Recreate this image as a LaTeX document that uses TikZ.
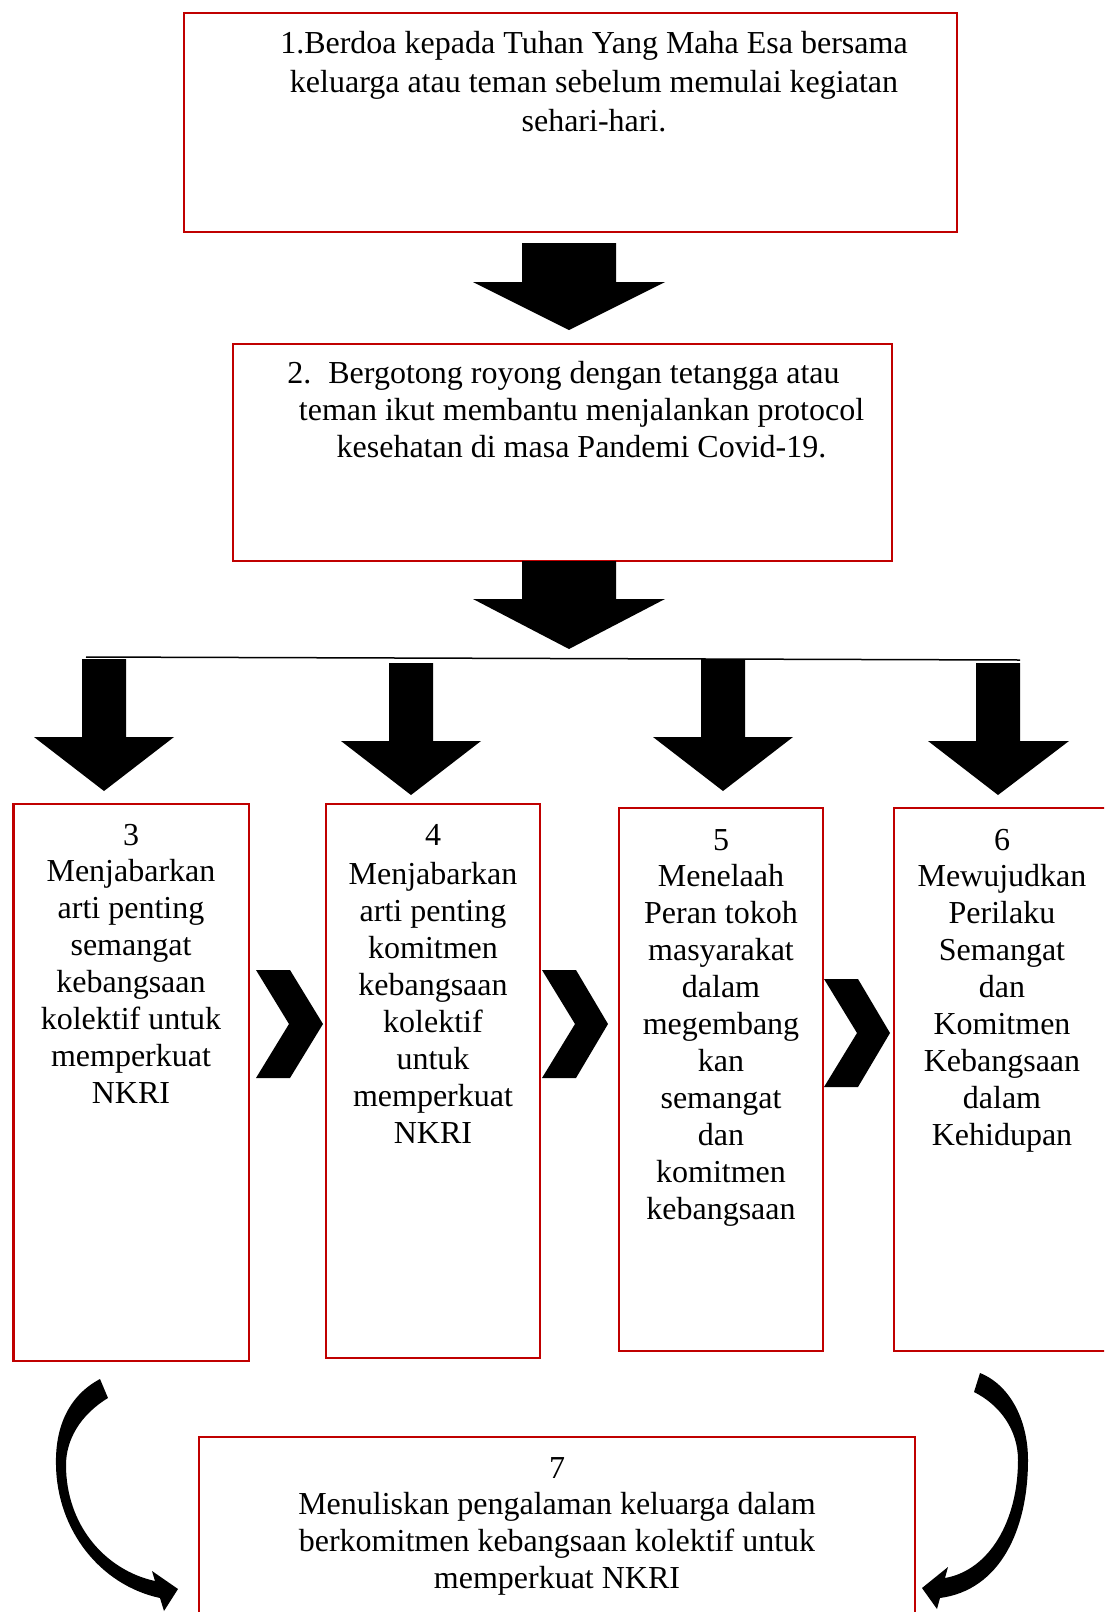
\documentclass[tikz,border=0pt]{standalone}
\usepackage{fontspec}
\setmainfont{Liberation Serif}
\definecolor{boxred}{HTML}{C00000}
\begin{document}
\begin{tikzpicture}[x=1pt,y=-1pt,
  boxnode/.style={draw=boxred, line width=2.5pt, inner sep=0pt, outer sep=0pt},
  txt/.style={anchor=base, inner sep=0pt, outer sep=0pt, font=\fontsize{32}{36.9}\selectfont},
  blk/.style={fill=black, draw=none}]
\useasboundingbox (0,0) rectangle (1104,1612);
\clip (0,0) rectangle (1104,1612);
% boxes
\node[boxnode, minimum width=773pt, minimum height=219pt] (b1) at (570.5,122.5) {};
\node[boxnode, minimum width=659pt, minimum height=217pt] (b2) at (562.5,452.5) {};
\node[boxnode, minimum width=235.5pt, minimum height=557pt] (b3) at (131.25,1082.5) {};
\node[boxnode, minimum width=214pt, minimum height=554pt] (b4) at (433,1081) {};
\node[boxnode, minimum width=204pt, minimum height=543pt] (b5) at (721,1079.5) {};
\node[boxnode, minimum width=218pt, minimum height=543pt] (b6) at (1003,1079.5) {};
\node[boxnode, minimum width=716pt, minimum height=203pt] (b7) at (557,1538.5) {};
% texts
\node[txt, font=\fontsize{32}{39.2}\selectfont] (t1) at (594,53) {\begin{tabular}[t]{@{}c@{}}1.Berdoa kepada Tuhan Yang Maha Esa bersama\\keluarga atau teman sebelum memulai kegiatan\\sehari-hari.\end{tabular}};
\node[txt, font=\fontsize{32}{37}\selectfont] (t2) at (581.5,383) {\begin{tabular}[t]{@{}c@{}}2.\hspace{17pt}Bergotong royong dengan tetangga atau\hspace*{36pt}\\teman ikut membantu menjalankan protocol\\kesehatan di masa Pandemi Covid-19.\end{tabular}};
\node[txt] (t3) at (131,845) {\begin{tabular}[t]{@{}c@{}}3\\Menjabarkan\\arti penting\\semangat\\kebangsaan\\kolektif untuk\\memperkuat\\NKRI\end{tabular}};
\node[txt] (t4) at (433,845) {\begin{tabular}[t]{@{}c@{}}4\\[3pt]Menjabarkan\\arti penting\\komitmen\\kebangsaan\\kolektif\\untuk\\memperkuat\\NKRI\end{tabular}};
\node[txt] (t5) at (721,850) {\begin{tabular}[t]{@{}c@{}}5\\Menelaah\\Peran tokoh\\masyarakat\\dalam\\megembang\\kan\\semangat\\dan\\komitmen\\kebangsaan\end{tabular}};
\node[txt] (t6) at (1002,850) {\begin{tabular}[t]{@{}c@{}}6\\Mewujudkan\\Perilaku\\Semangat\\dan\\Komitmen\\Kebangsaan\\dalam\\Kehidupan\end{tabular}};
\node[txt] (t7) at (557,1478) {\begin{tabular}[t]{@{}c@{}}7\\Menuliskan pengalaman keluarga dalam\\berkomitmen kebangsaan kolektif untuk\\memperkuat NKRI\end{tabular}};
% big down arrows
\fill[blk] (522,243) -- (616,243) -- (616,282) -- (665,282) -- (569,330) -- (473,282) -- (522,282) -- cycle;
\fill[blk] (522,561) -- (616,561) -- (616,599) -- (665,599) -- (569,649) -- (473,599) -- (522,599) -- cycle;
% branch line
\coordinate (ll) at (86,657);
\coordinate (lr) at (1020,660);
\draw[line width=1.5pt] (ll) -- (lr);
% small down arrows
\fill[blk] (82,659)--(126,659)--(126,737)--(174,737)--(104,791)--(34,737)--(82,737)--cycle;
\fill[blk] (389,663)--(433,663)--(433,741)--(481,741)--(411,795)--(341,741)--(389,741)--cycle;
\fill[blk] (701,659)--(745,659)--(745,737)--(793,737)--(723,791)--(653,737)--(701,737)--cycle;
\fill[blk] (976,663)--(1020,663)--(1020,741)--(1069,741)--(998,795)--(928,741)--(976,741)--cycle;
% chevrons
\fill[blk] (256,970)--(290,970)--(323,1024)--(290,1078)--(256,1078)--(289,1024)--cycle;
\fill[blk] (542,970)--(576,970)--(608,1024)--(576,1078)--(542,1078)--(575,1024)--cycle;
\fill[blk] (824,979)--(858,979)--(890,1033)--(858,1087)--(824,1087)--(857,1033)--cycle;
% curved arrows
\fill[blk] (100,1379) .. controls (70,1395) and (55,1425) .. (56,1465) .. controls (57,1530) and (100,1585) .. (160,1598) -- (164,1611) -- (178,1589) -- (152,1571) -- (155,1581) .. controls (105,1570) and (66,1525) .. (66,1465) .. controls (66,1440) and (80,1415) .. (108,1398) -- cycle;
\fill[blk] (980,1373) .. controls (1010,1385) and (1028,1420) .. (1028,1460) .. controls (1028,1530) and (1000,1590) .. (940,1598) -- (937,1609) -- (922,1588) -- (948,1567) -- (945,1578) .. controls (990,1570) and (1018,1520) .. (1018,1460) .. controls (1018,1430) and (1000,1405) .. (974,1392) -- cycle;
\end{tikzpicture}
\end{document}
